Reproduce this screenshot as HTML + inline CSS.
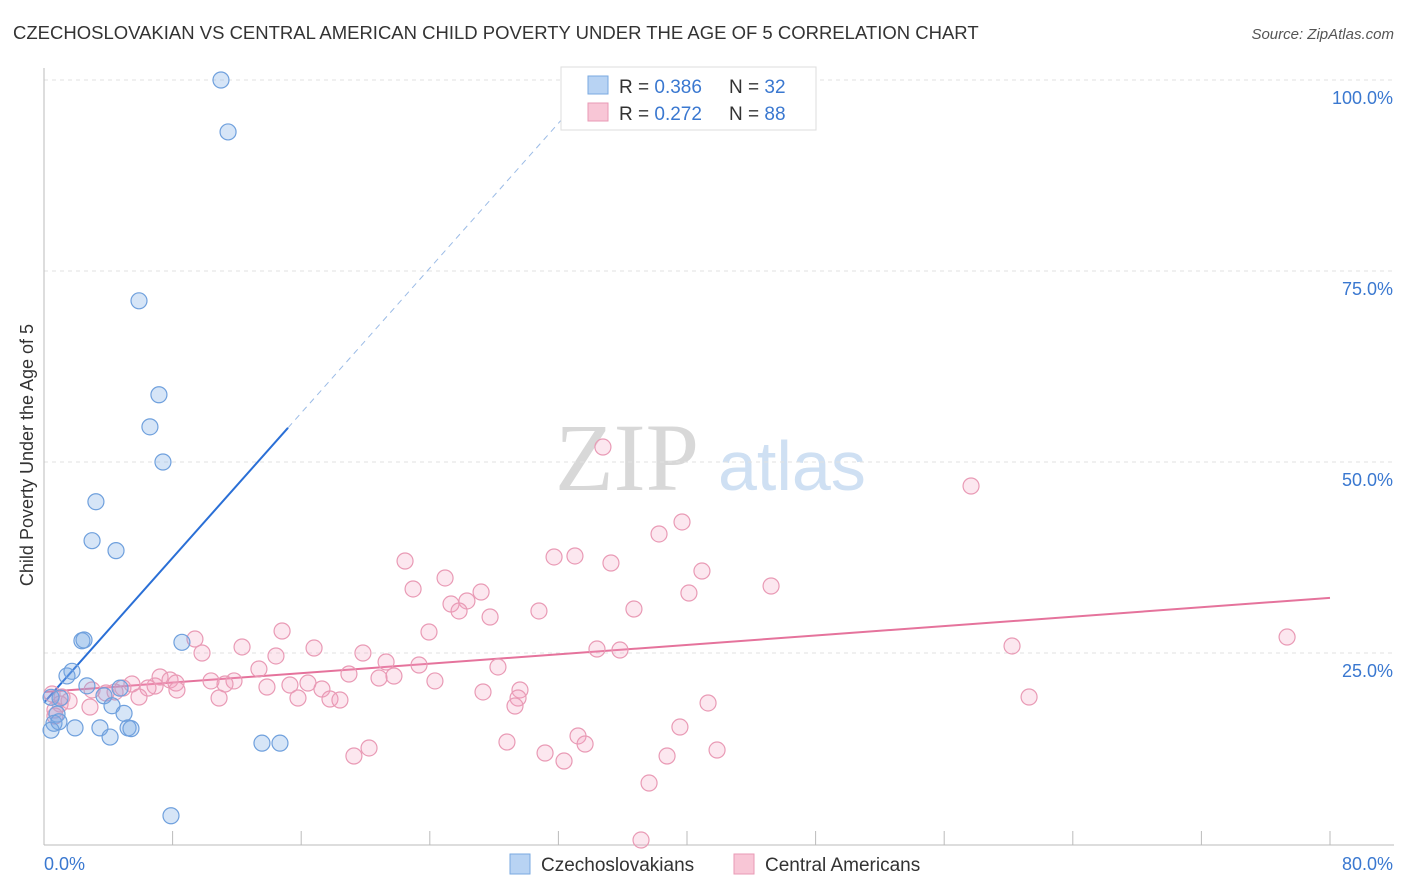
<!DOCTYPE html>
<html><head><meta charset="utf-8">
<style>
body{margin:0;background:#fff;font-family:"Liberation Sans",sans-serif;}
#wrap{position:relative;width:1406px;height:892px;overflow:hidden;}
</style></head>
<body>
<div id="wrap">
<svg id="chart" width="1406" height="892" xmlns="http://www.w3.org/2000/svg">
<text x="13" y="39" font-size="18.5" fill="#333">CZECHOSLOVAKIAN VS CENTRAL AMERICAN CHILD POVERTY UNDER THE AGE OF 5 CORRELATION CHART</text>
<text x="1394" y="39" font-size="15" fill="#555" font-style="italic" text-anchor="end">Source: ZipAtlas.com</text>
<text transform="translate(33,455) rotate(-90)" font-size="18" fill="#333" text-anchor="middle">Child Poverty Under the Age of 5</text>
<g>
<text x="555" y="490" font-size="96" font-family="Liberation Serif,serif" fill="#d8d8d8">ZIP</text>
<text x="718" y="490" font-size="70" fill="#cfe0f3">atlas</text>
</g>
<g id="grid"></g><g id="axes"></g><g id="lines"></g><g id="pts"></g>
<g>
<rect x="561" y="67" width="255" height="63" fill="#fff" stroke="#ddd"/>
<rect x="588" y="76" width="20" height="18" fill="#b8d3f3" stroke="#7aa9e0"/>
<rect x="588" y="103" width="20" height="18" fill="#f8c6d6" stroke="#e99ab5"/>
<text x="619" y="93" font-size="19" fill="#333">R = <tspan fill="#3a78d0">0.386</tspan></text>
<text x="729" y="93" font-size="19" fill="#333">N = <tspan fill="#3a78d0">32</tspan></text>
<text x="619" y="120" font-size="19" fill="#333">R = <tspan fill="#3a78d0">0.272</tspan></text>
<text x="729" y="120" font-size="19" fill="#333">N = <tspan fill="#3a78d0">88</tspan></text>
</g>
<g>
<rect x="510" y="854" width="20" height="20" fill="#b8d3f3" stroke="#7aa9e0"/>
<text x="541" y="871" font-size="19" fill="#333">Czechoslovakians</text>
<rect x="734" y="854" width="20" height="20" fill="#f8c6d6" stroke="#e99ab5"/>
<text x="765" y="871" font-size="19" fill="#333">Central Americans</text>
</g>
</svg>
</div>
<script>
const yTicks=[25,50,75,100];
const yTickLabels=["25.0%","50.0%","75.0%","100.0%"];
const xTicks=[0,8,16,24,32,40,48,56,64,72,80];
const xEndLabels=["0.0%","80.0%"];
const blueX=[11.01,11.45,5.91,7.15,6.59,7.40,3.23,2.99,4.48,2.36,2.49,8.58,1.74,1.43,2.67,4.73,3.73,0.44,1.0,4.23,4.98,0.81,0.62,0.93,3.48,1.93,5.23,5.41,0.44,4.11,13.56,14.68,7.90];
const blueY=[100,93.2,71.1,58.8,54.6,50.0,44.8,39.7,38.4,26.6,26.7,26.4,22.6,22.0,20.7,20.4,19.4,19.2,19.1,18.1,17.1,17.0,15.8,16.0,15.2,15.2,15.2,15.1,14.9,14.0,13.2,13.2,3.7];
const pinkX=[34.77,57.67,39.69,38.26,33.03,31.73,22.46,35.27,40.93,24.95,27.19,45.23,22.96,40.12,26.31,25.32,36.70,30.79,25.82,27.75,14.81,23.95,77.33,9.39,12.32,16.80,34.40,35.83,60.22,9.83,19.84,14.43,21.28,23.33,13.37,28.24,7.22,18.97,21.77,20.84,10.39,7.84,5.47,11.82,16.42,8.21,24.32,11.26,15.30,6.91,6.47,13.87,17.29,4.91,8.27,2.99,3.86,4.42,29.61,27.31,0.50,1.12,5.91,61.28,10.89,15.80,17.79,18.41,29.49,1.56,1.0,2.86,41.31,29.30,0.68,0.68,39.56,33.22,33.66,28.80,20.22,41.87,31.17,19.28,38.76,32.35,37.64,37.14];
const pinkY=[51.96,46.86,42.15,40.58,37.70,37.57,37.04,36.78,35.73,34.82,32.98,33.77,33.38,32.85,31.81,31.41,30.76,30.50,30.50,29.71,27.88,27.75,27.09,26.83,25.79,25.65,25.52,25.39,25.92,25.0,25.0,24.61,23.82,23.43,22.91,23.17,21.86,22.25,21.99,21.73,21.34,21.47,20.94,21.34,21.07,21.07,21.34,20.94,20.81,20.68,20.42,20.55,20.29,20.42,20.16,20.16,19.76,19.90,20.16,19.90,19.63,19.24,19.24,19.24,19.11,19.11,18.98,18.85,19.11,18.72,18.32,17.93,18.46,18.06,17.54,16.75,15.31,14.14,13.09,13.35,12.57,12.30,11.91,11.52,11.52,10.86,7.98,0.52];
const blueFit=[18.5,2.37];
const pinkFit=[19.9,0.154];
const NS="http://www.w3.org/2000/svg";
const X=v=>44+v*16.075, Y=v=>844-v*7.64;
function mk(t,a,p){const e=document.createElementNS(NS,t);for(const k in a)e.setAttribute(k,a[k]);document.getElementById(p).appendChild(e);return e;}
yTicks.forEach((t,i)=>{
 const g=mk('line',{x1:44,x2:1394,y1:Y(t),y2:Y(t),stroke:'#e2e2e2','stroke-dasharray':'4,4'},'grid');
 
 
 const l=mk('text',{x:1393,y:Y(t)+24,'font-size':18,fill:'#3a78d0','text-anchor':'end'},'axes');
 l.textContent=yTickLabels[i];
 
 
});
const ax=mk('line',{x1:44,x2:44,y1:68,y2:845,stroke:'#bbb'},'axes');


const bx=mk('line',{x1:44,x2:1394,y1:845,y2:845,stroke:'#bbb'},'axes');


xTicks.forEach(t=>{
 const k=mk('line',{x1:X(t),x2:X(t),y1:831,y2:845,stroke:'#bbb'},'axes');
 
 
});
[[0,44,'start'],[80,1393,'end']].forEach((d,i)=>{
 const l=mk('text',{x:d[1],y:870,'font-size':18,fill:'#3a78d0','text-anchor':d[2]},'axes');
 l.textContent=xEndLabels[i];
 
 
});
for(let i=0;i<pinkX.length;i++){
 const c=mk('circle',{cx:X(pinkX[i]),cy:Y(pinkY[i]),r:8,fill:'rgba(243,160,190,0.25)',stroke:'#e99ab5','stroke-width':1.2},'pts');
 
 
}
for(let i=0;i<blueX.length;i++){
 const c=mk('circle',{cx:X(blueX[i]),cy:Y(blueY[i]),r:8,fill:'rgba(120,170,230,0.3)',stroke:'#6fa0dd','stroke-width':1.2},'pts');
 
 
}
const bEnd=15.18, bTop=(100-blueFit[0])/blueFit[1];
const b1=mk('line',{x1:X(0),y1:Y(blueFit[0]),x2:X(bEnd),y2:Y(blueFit[0]+blueFit[1]*bEnd),stroke:'#2a6fd6','stroke-width':2},'lines');


const b2=mk('line',{x1:X(bEnd),y1:Y(blueFit[0]+blueFit[1]*bEnd),x2:X(bTop),y2:Y(100),stroke:'#9bbbe6','stroke-width':1,'stroke-dasharray':'6,5'},'lines');


const p1=mk('line',{x1:X(0),y1:Y(pinkFit[0]),x2:X(80),y2:Y(pinkFit[0]+pinkFit[1]*80),stroke:'#e5739c','stroke-width':2},'lines');


</script>
</body></html>
